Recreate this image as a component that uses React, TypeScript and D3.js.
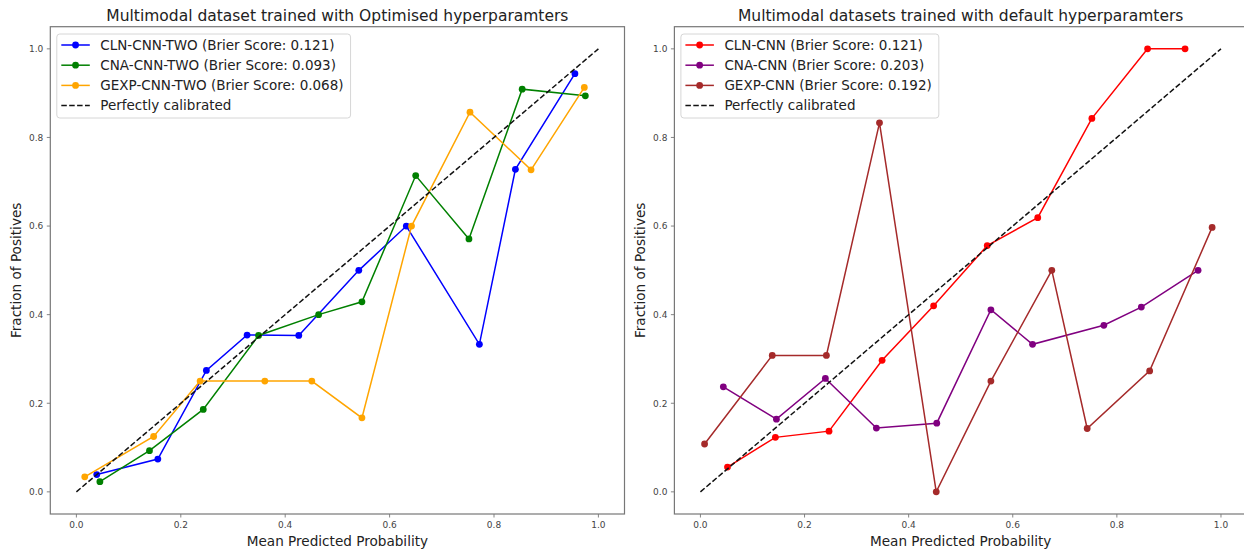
import { useEffect, useRef } from 'react';
import * as d3 from 'd3';

// calibration curves
const X_TICKS = [0, 0.2, 0.4, 0.6, 0.8, 1.0];
const Y_TICKS = [0, 0.2, 0.4, 0.6, 0.8, 1.0];

const clnTwoX = [0.039, 0.156, 0.249, 0.327, 0.426, 0.541, 0.632, 0.772, 0.841, 0.955];
const clnTwoY = [0.039, 0.074, 0.274, 0.354, 0.353, 0.5, 0.6, 0.333, 0.728, 0.944];
const cnaTwoX = [0.045, 0.14, 0.243, 0.349, 0.464, 0.547, 0.65, 0.752, 0.854, 0.975];
const cnaTwoY = [0.023, 0.093, 0.186, 0.353, 0.4, 0.429, 0.714, 0.571, 0.909, 0.894];
const gexpTwoX = [0.016, 0.148, 0.237, 0.361, 0.451, 0.547, 0.642, 0.754, 0.871, 0.973];
const gexpTwoY = [0.034, 0.125, 0.25, 0.25, 0.25, 0.167, 0.6, 0.857, 0.727, 0.913];

const clnX = [0.052, 0.144, 0.247, 0.349, 0.448, 0.551, 0.648, 0.752, 0.859, 0.931];
const clnY = [0.056, 0.123, 0.137, 0.297, 0.42, 0.556, 0.619, 0.843, 1.0, 1.0];
const cnaX = [0.044, 0.146, 0.24, 0.338, 0.454, 0.558, 0.638, 0.775, 0.847, 0.956];
const cnaY = [0.237, 0.164, 0.256, 0.144, 0.155, 0.411, 0.333, 0.376, 0.417, 0.5];
const gexpX = [0.008, 0.138, 0.242, 0.344, 0.453, 0.558, 0.675, 0.743, 0.863, 0.983];
const gexpY = [0.108, 0.308, 0.308, 0.833, 0.0, 0.25, 0.5, 0.143, 0.273, 0.597];

const leftTitle = 'Multimodal dataset trained with Optimised hyperparamters';
const rightTitle = 'Multimodal datasets trained with default hyperparamters';
const leftLabels = [
    'CLN-CNN-TWO (Brier Score: 0.121)',
    'CNA-CNN-TWO (Brier Score: 0.093)',
    'GEXP-CNN-TWO (Brier Score: 0.068)',
];
const rightLabels = [
    'CLN-CNN (Brier Score: 0.121)',
    'CNA-CNN (Brier Score: 0.203)',
    'GEXP-CNN (Brier Score: 0.192)',
];
const refLabel = 'Perfectly calibrated';

const FONT = '"DejaVu Sans", sans-serif';
const WIDTH = 1244;
const HEIGHT = 550;
const MARKER_R = 3.4;

interface Series {
    label: string;
    color: string;
    xs: number[];
    ys: number[];
}

interface Panel {
    title: string;
    left: number;
    right: number;
    series: Series[];
}

const panels: Panel[] = [
    {
        title: leftTitle,
        left: 50.3,
        right: 624.5,
        series: [
            { label: leftLabels[0], color: '#0000ff', xs: clnTwoX, ys: clnTwoY },
            { label: leftLabels[1], color: '#008000', xs: cnaTwoX, ys: cnaTwoY },
            { label: leftLabels[2], color: '#ffa500', xs: gexpTwoX, ys: gexpTwoY },
        ],
    },
    {
        title: rightTitle,
        left: 674.4,
        right: 1247,
        series: [
            { label: rightLabels[0], color: '#ff0000', xs: clnX, ys: clnY },
            { label: rightLabels[1], color: '#800080', xs: cnaX, ys: cnaY },
            { label: rightLabels[2], color: '#a52a2a', xs: gexpX, ys: gexpY },
        ],
    },
];

const App = () => {
    const svgRef = useRef<SVGSVGElement>(null);

    useEffect(() => {
        if (!svgRef.current) return;
        const root = d3.select(svgRef.current);
        root.selectAll('*').remove();

        const top = 26.7;
        const bottom = 514;

        const yScale = d3.scaleLinear().domain([-0.05, 1.05]).range([bottom, top]);

        panels.forEach((panel) => {
            const xScale = d3.scaleLinear().domain([-0.05, 1.05]).range([panel.left, panel.right]);
            const g = root.append('g');

            // title
            g.append('text')
                .attr('x', (panel.left + panel.right) / 2)
                .attr('y', 20.5)
                .attr('text-anchor', 'middle')
                .style('font-family', FONT)
                .style('font-size', '15.5px')
                .attr('fill', '#222')
                .text(panel.title);

            // ticks
            X_TICKS.forEach((t) => {
                const x = xScale(t);
                g.append('line')
                    .attr('x1', x).attr('x2', x)
                    .attr('y1', bottom).attr('y2', bottom + 3.5)
                    .attr('stroke', '#666').attr('stroke-width', 0.8);
                g.append('text')
                    .attr('x', x)
                    .attr('y', bottom + 14)
                    .attr('text-anchor', 'middle')
                    .style('font-family', FONT)
                    .style('font-size', '9px')
                    .attr('fill', '#444')
                    .text(d3.format('.1f')(t));
            });
            Y_TICKS.forEach((t) => {
                const y = yScale(t);
                g.append('line')
                    .attr('x1', panel.left - 3.5).attr('x2', panel.left)
                    .attr('y1', y).attr('y2', y)
                    .attr('stroke', '#666').attr('stroke-width', 0.8);
                g.append('text')
                    .attr('x', panel.left - 7)
                    .attr('y', y + 3.3)
                    .attr('text-anchor', 'end')
                    .style('font-family', FONT)
                    .style('font-size', '9px')
                    .attr('fill', '#444')
                    .text(d3.format('.1f')(t));
            });

            // axis labels
            g.append('text')
                .attr('x', (panel.left + panel.right) / 2)
                .attr('y', 545.5)
                .attr('text-anchor', 'middle')
                .style('font-family', FONT)
                .style('font-size', '13.6px')
                .attr('fill', '#222')
                .text('Mean Predicted Probability');
            g.append('text')
                .attr('transform', `translate(${panel.left - 29},${(top + bottom) / 2}) rotate(-90)`)
                .attr('text-anchor', 'middle')
                .style('font-family', FONT)
                .style('font-size', '13.6px')
                .attr('fill', '#222')
                .text('Fraction of Positives');

            // series
            const line = d3.line<[number, number]>()
                .x(d => xScale(d[0]))
                .y(d => yScale(d[1]));

            panel.series.forEach((s) => {
                const pts = s.xs.map((x, i) => [x, s.ys[i]] as [number, number]);
                g.append('path')
                    .attr('d', line(pts))
                    .attr('fill', 'none')
                    .attr('stroke', s.color)
                    .attr('stroke-width', 1.5);
                g.selectAll(null)
                    .data(pts)
                    .enter()
                    .append('circle')
                    .attr('cx', d => xScale(d[0]))
                    .attr('cy', d => yScale(d[1]))
                    .attr('r', MARKER_R)
                    .attr('fill', s.color);
            });

            // perfectly calibrated reference
            g.append('path')
                .attr('d', line([[0, 0], [1, 1]]))
                .attr('fill', 'none')
                .attr('stroke', '#111')
                .attr('stroke-width', 1.5)
                .attr('stroke-dasharray', '5.5,2.4');

            // spines
            g.append('rect')
                .attr('x', panel.left)
                .attr('y', top)
                .attr('width', panel.right - panel.left)
                .attr('height', bottom - top)
                .attr('fill', 'none')
                .attr('stroke', '#777')
                .attr('stroke-width', 1.2);

            // legend
            const lx = panel.left + 6.5;
            const ly = 34;
            const lg = g.append('g');
            const box = lg.append('rect')
                .attr('x', lx)
                .attr('y', ly)
                .attr('height', 84)
                .attr('rx', 3)
                .attr('fill', 'rgba(255,255,255,0.8)')
                .attr('stroke', '#d6d6d6')
                .attr('stroke-width', 1);

            const entries = [
                ...panel.series.map(s => ({ label: s.label, color: s.color, dashed: false })),
                { label: refLabel, color: '#111', dashed: true },
            ];
            let maxW = 0;
            entries.forEach((e, i) => {
                const y = ly + 11 + i * 20.2;
                lg.append('line')
                    .attr('x1', lx + 4.5).attr('x2', lx + 33)
                    .attr('y1', y).attr('y2', y)
                    .attr('stroke', e.color)
                    .attr('stroke-width', 1.5)
                    .attr('stroke-dasharray', e.dashed ? '5.5,2.4' : null);
                if (!e.dashed) {
                    lg.append('circle')
                        .attr('cx', lx + 18.75).attr('cy', y)
                        .attr('r', MARKER_R)
                        .attr('fill', e.color);
                }
                const t = lg.append('text')
                    .attr('x', lx + 43.5)
                    .attr('y', y + 4.8)
                    .style('font-family', FONT)
                    .style('font-size', '13.5px')
                    .attr('fill', '#222')
                    .text(e.label);
                const w = (t.node() as SVGTextElement).getComputedTextLength();
                if (w > maxW) maxW = w;
            });
            box.attr('width', 43.5 + maxW + 7);
        });
    }, []);

    return (
        <>
            <style>{'body{margin:0;background:#fff}'}</style>
            <svg ref={svgRef} width={WIDTH} height={HEIGHT} role="img"
                aria-label="Calibration curves for multimodal datasets"
                style={{ display: 'block', background: '#fff' }}></svg>
        </>
    );
};

export default App;
